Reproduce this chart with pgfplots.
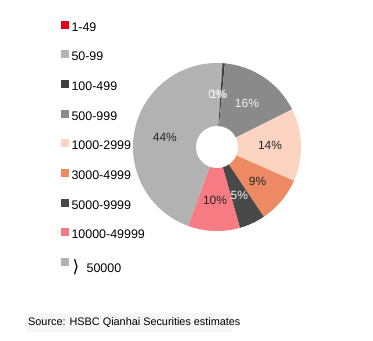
\documentclass[border=0pt]{standalone}
\usepackage{pgfplots}
\pgfplotsset{compat=1.18}
\usepackage{pgfplotstable}
\usepackage{fontspec}
\setmainfont{Liberation Sans}
\newfontfamily\dejavu{DejaVu Sans}
\definecolor{cA}{HTML}{E2001A}
\definecolor{cB}{HTML}{B4B4B4}
\definecolor{cC}{HTML}{3F3F3F}
\definecolor{cD}{HTML}{8A8A8A}
\definecolor{cE}{HTML}{FAD3C1}
\definecolor{cF}{HTML}{ED8A64}
\definecolor{cG}{HTML}{484848}
\definecolor{cH}{HTML}{F77B82}
\definecolor{cI}{HTML}{B2B2B2}
\definecolor{labdark}{HTML}{262626}
\definecolor{lablight}{HTML}{F2F2F2}
\definecolor{band}{HTML}{F6F6F6}

\pgfplotstableread{
share col lab labcol show
0.05 cA 0 lablight 1
1.0 cB 1 lablight 1
0.45 cC 0 lablight 0
16.1 cD 16 lablight 1
14.0 cE 14 labdark 1
9.0 cF 9 labdark 1
5.0 cG 5 lablight 1
10.0 cH 10 labdark 1
44.4 cI 44 labdark 1
}\piedata

\newcommand\lblfont{\fontsize{12}{12}\selectfont}
\begin{document}
\begin{tikzpicture}
\path (0,0) rectangle (373bp,341bp);
\begin{axis}[
  at={(0,0)}, anchor=south west,
  x=1bp, y=1bp, xmin=0, xmax=373, ymin=0, ymax=341,
  scale only axis, hide axis, clip=false,
  legend cell align=left,
  legend image code/.code={\fill[#1] (0bp,-0.5bp) rectangle (8bp,7.5bp);},
  legend style={draw=none, fill=none, inner sep=0pt, outer sep=0pt,
    at={(axis cs:61,320.5)}, anchor=north west,
    row sep=16.2bp,
    font=\fontsize{12.5}{12.5}\selectfont,
    nodes={inner xsep=2.5bp, inner ysep=0pt, text height=9bp, text depth=3bp}},
]
\addlegendimage{fill=cA,draw=none}\addlegendentry{1-49}
\addlegendimage{fill=cB,draw=none}\addlegendentry{50-99}
\addlegendimage{fill=cC,draw=none}\addlegendentry{100-499}
\addlegendimage{fill=cD,draw=none}\addlegendentry{500-999}
\addlegendimage{fill=cE,draw=none}\addlegendentry{1000-2999}
\addlegendimage{fill=cF,draw=none}\addlegendentry{3000-4999}
\addlegendimage{fill=cG,draw=none}\addlegendentry{5000-9999}
\addlegendimage{fill=cH,draw=none}\addlegendentry{10000-49999}
\addlegendimage{fill=cI,draw=none}\addlegendentry{\raisebox{-3.5bp}{\hspace{1bp}{\dejavu\fontsize{17}{17}\selectfont ⟩}\hspace{7.5bp}50000}}

\pgfplotstablegetrowsof{\piedata}
\pgfmathtruncatemacro{\nrows}{\pgfplotsretval-1}
\def\cum{0}
\pgfplotsforeachungrouped \i in {0,...,\nrows}{%
  \pgfplotstablegetelem{\i}{share}\of\piedata \let\sh\pgfplotsretval
  \pgfplotstablegetelem{\i}{col}\of\piedata \let\cl\pgfplotsretval
  \pgfmathsetmacro{\sa}{90-3.6*\cum}
  \pgfmathsetmacro{\cumnew}{\cum+\sh}
  \pgfmathsetmacro{\ea}{90-3.6*\cumnew}
  \edef\cmd{\noexpand\fill[\cl] (axis cs:217,194) -- ([shift={(\sa:84bp)}]axis cs:217,194) arc[start angle=\sa, end angle=\ea, radius=84bp] -- cycle;}
  \cmd
  \let\cum\cumnew
}
\fill[white] (axis cs:217,194) circle[radius=21bp];
\def\cum{0}
\pgfplotsforeachungrouped \i in {0,...,\nrows}{%
  \pgfplotstablegetelem{\i}{share}\of\piedata \let\sh\pgfplotsretval
  \pgfplotstablegetelem{\i}{lab}\of\piedata \let\lb\pgfplotsretval
  \pgfplotstablegetelem{\i}{labcol}\of\piedata \let\lc\pgfplotsretval
  \pgfplotstablegetelem{\i}{show}\of\piedata \let\sw\pgfplotsretval
  \pgfmathsetmacro{\sa}{90-3.6*\cum}
  \pgfmathsetmacro{\cumnew}{\cum+\sh}
  \pgfmathsetmacro{\ea}{90-3.6*\cumnew}
  \pgfmathsetmacro{\ma}{(\sa+\ea)/2}
  \ifnum\sw=1
  \edef\cmd{\noexpand\node[text=\lc, inner sep=0pt, font=\noexpand\lblfont] at ([shift={(\ma:53bp)}]axis cs:217,194) {\lb\noexpand\%};}
  \cmd
  \fi
  \let\cum\cumnew
}
\fill[band] (axis cs:26,9) rectangle (axis cs:232,28);
\node[anchor=west, inner sep=0pt, font=\fontsize{10.9}{10.9}\selectfont] at (axis cs:28,18.5) {Source: HSBC Qianhai Securities estimates};
\end{axis}
\end{tikzpicture}
\end{document}
